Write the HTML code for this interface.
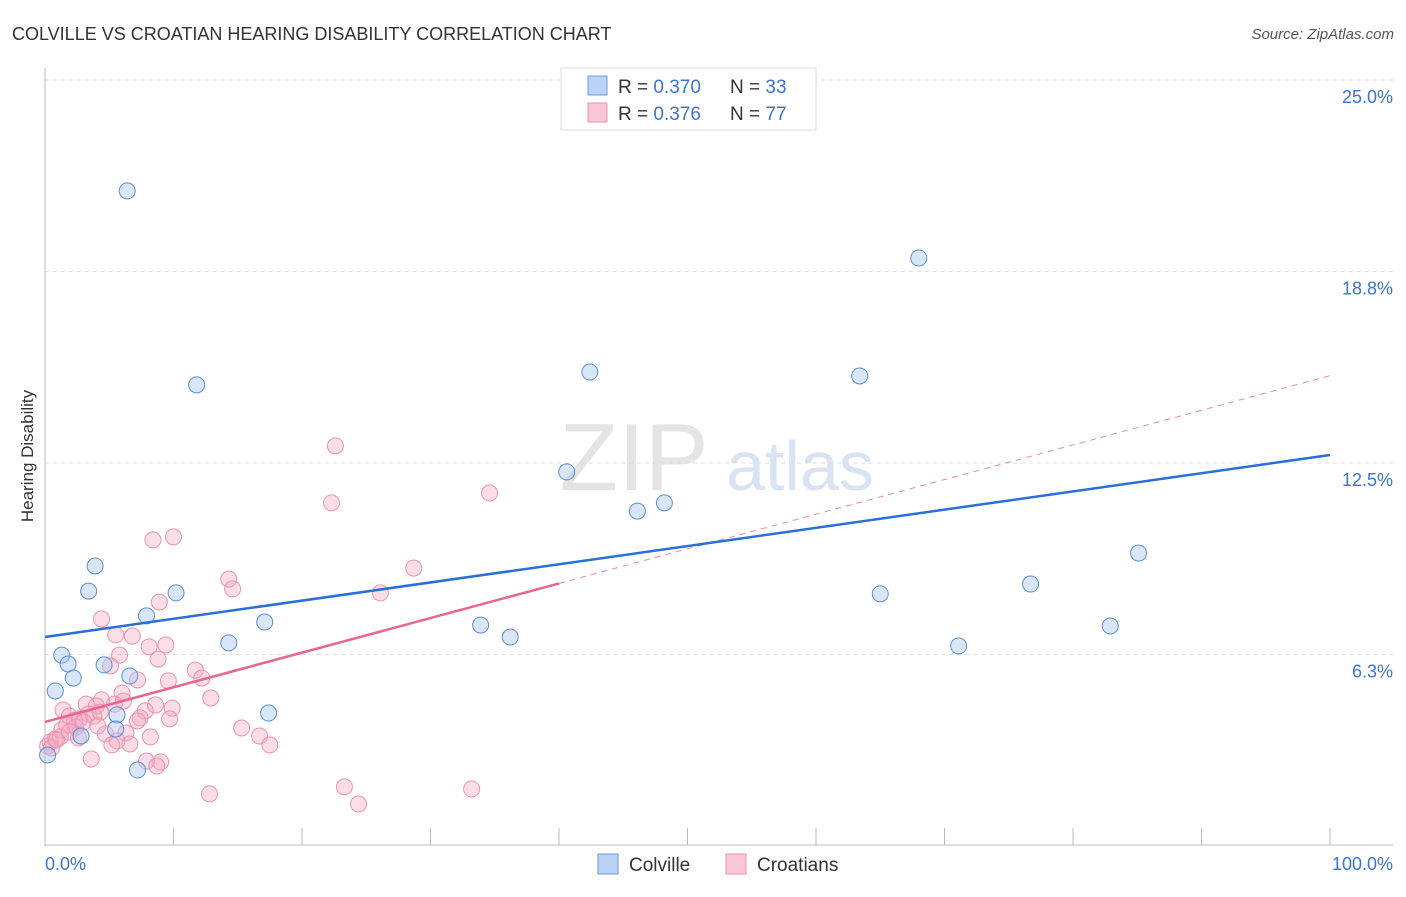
<!DOCTYPE html>
<html><head><meta charset="utf-8"><style>
body{margin:0;background:#fff;font-family:"Liberation Sans",sans-serif;}
svg text{font-family:"Liberation Sans",sans-serif;}
</style></head><body>
<svg id="chart" width="1406" height="892" xmlns="http://www.w3.org/2000/svg">
<text x="12" y="40" font-size="18" fill="#333">COLVILLE VS CROATIAN HEARING DISABILITY CORRELATION CHART</text>
<text x="1394" y="39" font-size="15" fill="#555" font-style="italic" text-anchor="end">Source: ZipAtlas.com</text>
<text transform="translate(33,456) rotate(-90)" font-size="17" fill="#333" text-anchor="middle">Hearing Disability</text>
<g>
<text x="634" y="490" font-size="96" fill="#e4e4e4" text-anchor="middle" font-family="Liberation Serif, serif">ZIP</text>
<text x="800" y="490" font-size="70" fill="#d8e4f4" text-anchor="middle">atlas</text>
</g>
<g id="grid"></g>
<g id="axes"></g>
<g id="marks"></g>
<g>
<rect x="561" y="68" width="255" height="62" fill="#fff" stroke="#ddd"/>
<rect x="588" y="76" width="19" height="19" fill="#b9d3f5" stroke="#6f9be0"/>
<rect x="588" y="103" width="19" height="19" fill="#f9c6d5" stroke="#eb93ae"/>
<text x="618" y="93" font-size="19" fill="#333">R = <tspan fill="#3a75d6">0.370</tspan><tspan x="730">N = </tspan><tspan fill="#3a75d6">33</tspan></text>
<text x="618" y="120" font-size="19" fill="#333">R = <tspan fill="#3a75d6"> 0.376</tspan><tspan x="730">N = </tspan><tspan fill="#3a75d6">77</tspan></text>
</g>
<g>
<rect x="598" y="854" width="20" height="20" fill="#b9d3f5" stroke="#6f9be0"/>
<text x="629" y="871" font-size="19" fill="#333">Colville</text>
<rect x="726" y="854" width="20" height="20" fill="#f9c6d5" stroke="#eb93ae"/>
<text x="757" y="871" font-size="19" fill="#333">Croatians</text>
</g>
</svg>
<script>
const yTicks=[6.25,12.5,18.75,25];
const yTickLabels=["6.3%","12.5%","18.8%","25.0%"];
const xTickLabels=["0.0%","100.0%"];
const colvilleX=[6.4,68.0,11.8,42.4,63.4,40.6,46.1,48.2,3.9,85.1,3.4,76.7,65.0,10.2,7.9,17.1,33.9,82.9,36.2,14.3,71.1,1.3,1.8,4.6,6.6,2.2,0.8,5.6,17.4,5.5,2.8,0.2,7.2];
const colvilleY=[21.38,19.19,15.05,15.47,15.34,12.21,10.93,11.20,9.14,9.56,8.32,8.55,8.23,8.26,7.51,7.31,7.21,7.18,6.82,6.63,6.53,6.23,5.94,5.91,5.55,5.48,5.06,4.28,4.34,3.82,3.59,2.97,2.48];
const croatX=[22.6,34.6,22.3,10.0,8.4,28.7,14.3,14.6,26.1,8.9,4.4,5.5,6.8,9.4,8.1,8.8,5.8,5.1,11.7,7.2,9.6,12.2,6.0,12.9,4.4,3.2,6.1,4.0,5.4,7.8,9.9,1.4,1.9,2.3,2.7,3.4,3.8,7.4,9.7,7.2,1.7,1.3,2.4,4.7,6.3,15.3,8.2,16.7,1.2,0.8,0.4,0.2,0.5,0.9,6.6,5.6,17.5,3.6,7.9,9.0,8.7,23.3,33.2,12.8,24.4,4.3,3.0,1.9,5.2,2.6,8.6,4.1];
const croatY=[13.06,11.52,11.20,10.09,9.99,9.07,8.71,8.39,8.26,7.96,7.41,6.89,6.85,6.56,6.50,6.10,6.23,5.88,5.74,5.42,5.39,5.48,4.99,4.83,4.77,4.63,4.73,4.57,4.63,4.41,4.50,4.44,4.24,4.11,4.15,4.31,4.24,4.18,4.15,4.08,3.95,3.79,3.88,3.66,3.69,3.85,3.56,3.59,3.56,3.49,3.39,3.26,3.20,3.46,3.33,3.43,3.30,2.84,2.77,2.74,2.61,1.93,1.86,1.70,1.37,4.37,4.05,3.72,3.30,3.53,4.60,3.92];
const colvilleTrend=[6.82,12.76]; // y at x=0 and x=100
const croatTrend=[4.05,15.35];
const croatSolidEnd=40;

const NS="http://www.w3.org/2000/svg";
const X0=45,X1=1330,YB=846,YT=80;
const sx=v=>X0+(X1-X0)*v/100;
const sy=v=>YB-(YB-YT)*v/25;
function mk(tag,attrs,parent){const e=document.createElementNS(NS,tag);for(const k in attrs)e.setAttribute(k,attrs[k]);parent.appendChild(e);return e;}
const grid=document.getElementById('grid'),axes=document.getElementById('axes'),marks=document.getElementById('marks');
yTicks.forEach((t,i)=>{
  const l=mk('line',{x1:45,x2:1393,y1:sy(t),y2:sy(t),stroke:'#ddd','stroke-dasharray':'4,4'},grid);
  
  
  const tx=mk('text',{x:1393,y:sy(t)+23,'font-size':18,fill:'#3a75d6','text-anchor':'end'},axes);
  tx.textContent=yTickLabels[i];
  
  
});
const ya=mk('line',{x1:45,x2:45,y1:68,y2:846,stroke:'#bbb'},axes);


const xa=mk('line',{x1:45,x2:1393,y1:845,y2:845,stroke:'#bbb'},axes);


for(let i=0;i<=10;i++){
  const t=mk('line',{x1:sx(i*10),x2:sx(i*10),y1:828,y2:845,stroke:'#bbb'},axes);
  
  
}
[[0,'start',45],[100,'end',1393]].forEach((d,i)=>{
  const t=mk('text',{x:d[2],y:870,'font-size':18,fill:'#3a75d6','text-anchor':d[1]},axes);
  t.textContent=xTickLabels[i];
  
  
});
croatX.forEach((x,i)=>{
  const c=mk('circle',{cx:sx(x),cy:sy(croatY[i]),r:8,fill:'rgba(245,170,195,0.4)',stroke:'#eb93ae','stroke-width':1},marks);
  
  
});
colvilleX.forEach((x,i)=>{
  const c=mk('circle',{cx:sx(x),cy:sy(colvilleY[i]),r:8,fill:'rgba(168,200,240,0.45)',stroke:'#5b8fd9','stroke-width':1},marks);
  
  
});
const ct=v=>croatTrend[0]+(croatTrend[1]-croatTrend[0])*v/100;
const pd=mk('line',{x1:sx(croatSolidEnd),y1:sy(ct(croatSolidEnd)),x2:sx(100),y2:sy(ct(100)),stroke:'#eb8aa8','stroke-width':1,'stroke-dasharray':'6,5'},marks);


const ps=mk('line',{x1:sx(0),y1:sy(ct(0)),x2:sx(croatSolidEnd),y2:sy(ct(croatSolidEnd)),stroke:'#e8658f','stroke-width':2.5},marks);


const bl=mk('line',{x1:sx(0),y1:sy(colvilleTrend[0]),x2:sx(100),y2:sy(colvilleTrend[1]),stroke:'#2a6fd6','stroke-width':2.5},marks);


</script>
</body></html>
